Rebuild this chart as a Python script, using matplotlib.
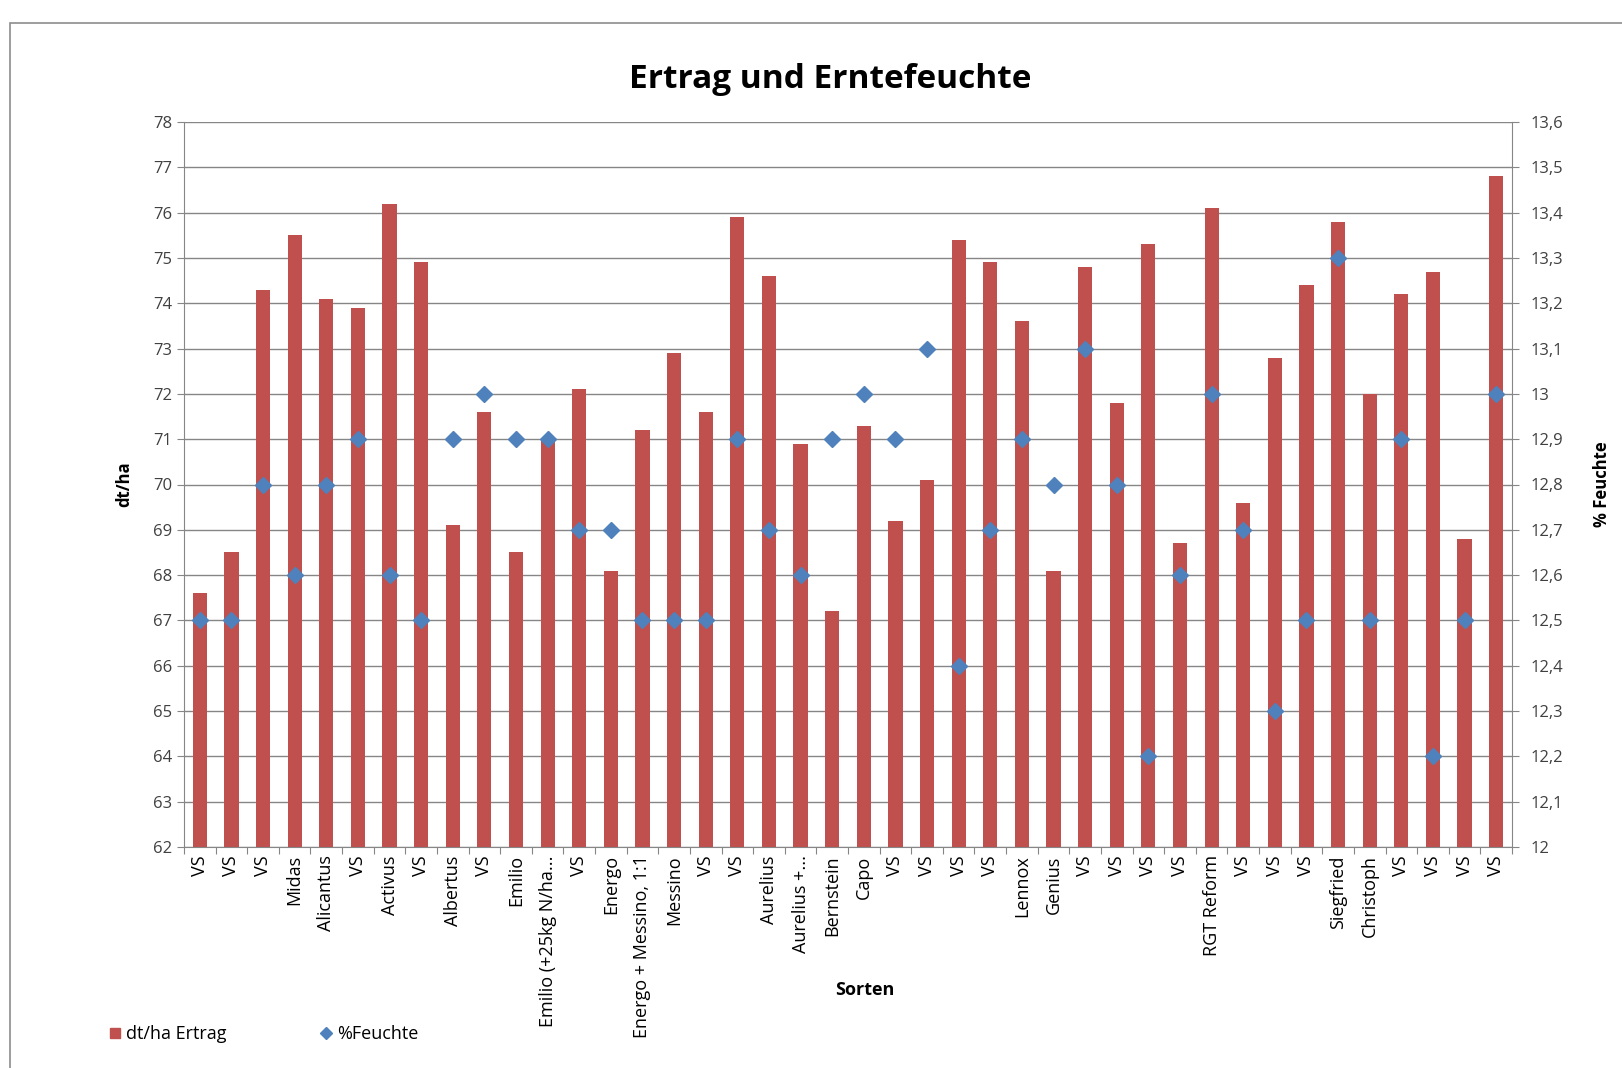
import matplotlib.pyplot as plt
from matplotlib.ticker import FuncFormatter
from matplotlib.patches import Rectangle
from matplotlib.lines import Line2D

plt.rcParams['font.family'] = ['Open Sans', 'DejaVu Sans']

# Sorten (x-axis categories)
sorten = ['VS', 'VS', 'VS', 'Midas', 'Alicantus', 'VS', 'Activus', 'VS',
          'Albertus', 'VS', 'Emilio', 'Emilio (+25kg N/ha...', 'VS', 'Energo',
          'Energo + Messino, 1:1', 'Messino', 'VS', 'VS', 'Aurelius',
          'Aurelius +...', 'Bernstein', 'Capo', 'VS', 'VS', 'VS', 'VS',
          'Lennox', 'Genius', 'VS', 'VS', 'VS', 'VS', 'RGT Reform', 'VS',
          'VS', 'VS', 'Siegfried', 'Christoph', 'VS', 'VS', 'VS', 'VS']

# dt/ha Ertrag
ertrag = [67.6, 68.5, 74.3, 75.5, 74.1, 73.9, 76.2, 74.9, 69.1, 71.6,
          68.5, 71.0, 72.1, 68.1, 71.2, 72.9, 71.6, 75.9, 74.6, 70.9,
          67.2, 71.3, 69.2, 70.1, 75.4, 74.9, 73.6, 68.1, 74.8, 71.8,
          75.3, 68.7, 76.1, 69.6, 72.8, 74.4, 75.8, 72.0, 74.2, 74.7,
          68.8, 76.8]

# % Feuchte
feuchte = [12.5, 12.5, 12.8, 12.6, 12.8, 12.9, 12.6, 12.5, 12.9, 13.0,
           12.9, 12.9, 12.7, 12.7, 12.5, 12.5, 12.5, 12.9, 12.7, 12.6,
           12.9, 13.0, 12.9, 13.1, 12.4, 12.7, 12.9, 12.8, 13.1, 12.8,
           12.2, 12.6, 13.0, 12.7, 12.3, 12.5, 13.3, 12.5, 12.9, 12.2,
           12.5, 13.0]

bar_color = '#C0504D'
dot_color = '#4F81BD'
text_color = '#404040'

fig = plt.figure(figsize=(16.22, 10.68), dpi=100)

# chart frame like the spreadsheet export
fig.patches.append(Rectangle((10 / 1622, -0.01), 1.2, 1 - 23 / 1068 + 0.01,
                             transform=fig.transFigure, fill=False,
                             edgecolor='#8C8C8C', linewidth=1.2))

ax = fig.add_axes([184 / 1622, 1 - 847 / 1068, (1512 - 184) / 1622, (847 - 122) / 1068])
x = list(range(len(sorten)))

ax.bar(x, ertrag, width=0.45, color=bar_color, zorder=2)
ax.set_ylim(62, 78)
ax.set_xlim(-0.5, len(sorten) - 0.5)
ax.set_yticks(range(62, 79))
ax.yaxis.grid(True, color='#868686', linewidth=1)
ax.set_axisbelow(True)
ax.set_xticks([i - 0.5 for i in range(len(sorten) + 1)], minor=False)
ax.set_xticklabels([])
ax.set_xticks(x, minor=True)
ax.set_xticklabels(sorten, minor=True, rotation=90, fontsize=13, color='black')
ax.tick_params(axis='x', which='minor', length=0, pad=6)
ax.tick_params(axis='x', which='major', length=5, direction='out', color='#868686')
ax.tick_params(axis='y', length=5, color='#868686', labelsize=12, labelcolor=text_color)
for s in ['top', 'right']:
    ax.spines[s].set_visible(False)
for s in ['left', 'bottom']:
    ax.spines[s].set_color('#868686')
ax.set_ylabel('dt/ha', fontsize=12, fontweight='bold', labelpad=14)

ax2 = ax.twinx()
ax2.plot(x, feuchte, linestyle='none', marker='D', markersize=8,
         color=dot_color, zorder=3)
ax2.set_ylim(12, 13.6)
ax2.set_yticks([12 + i / 10 for i in range(17)])
ax2.yaxis.set_major_formatter(FuncFormatter(
    lambda v, p: ('%g' % round(v, 1)).replace('.', ',')))
ax2.tick_params(axis='y', length=5, color='#868686', labelsize=12,
                labelcolor=text_color, pad=8)
for s in ['top', 'left', 'bottom']:
    ax2.spines[s].set_visible(False)
ax2.spines['right'].set_color('#868686')
ax2.set_ylabel('% Feuchte', fontsize=12, fontweight='bold', labelpad=22)

fig.text(865 / 1622, 1 - 990 / 1068, 'Sorten', ha='center', va='center',
         fontsize=13, fontweight='bold')

fig.text(0.512, 1 - 80 / 1068, 'Ertrag und Erntefeuchte', ha='center', va='center',
         fontsize=24, fontweight='bold')

handles = [Line2D([], [], linestyle='none', marker='s', markersize=7, color=bar_color),
           Line2D([], [], linestyle='none', marker='D', markersize=6, color=dot_color)]
fig.legend(handles, ['dt/ha Ertrag', '%Feuchte'], loc='center left',
           bbox_to_anchor=(90 / 1622, 1 - 1034 / 1068), ncol=2, frameon=False,
           fontsize=13, handletextpad=0.1, columnspacing=5.0, handlelength=1)

fig.savefig('out.png', dpi=100)
